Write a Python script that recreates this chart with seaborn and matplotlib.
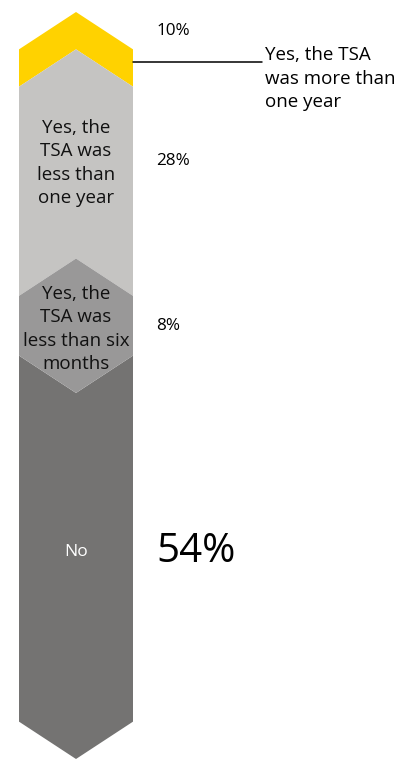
import matplotlib
matplotlib.use("Agg")
import matplotlib.pyplot as plt
import seaborn as sns

# Survey answers, top of the column to the bottom
categories = [
    "Yes, the TSA was more than one year",
    "Yes, the TSA was less than one year",
    "Yes, the TSA was less than six months",
    "No",
]
inside_labels = ["", "Yes, the\nTSA was\nless than\none year",
                 "Yes, the\nTSA was\nless than six\nmonths", "No"]
values = [10, 28, 8, 54]
value_labels = ["10%", "28%", "8%", "54%"]
colors = ["#FFD200", "#C5C4C2", "#999898", "#747372"]

sns.set_theme(style="white")
plt.rcParams["font.family"] = ["Open Sans", "DejaVu Sans"]

W, H = 413, 760
fig = plt.figure(figsize=(W / 100, H / 100), dpi=100)
ax = fig.add_axes([0, 0, 1, 1])

# axis scale: bar of width 0.8 centred on x=0, y runs 0..100 downward
px_per_x = 142.5
px_per_y = 7.47
x0_px, y0_px = 76, 12
ax.set_xlim(-x0_px / px_per_x, (W - x0_px) / px_per_x)
ax.set_ylim(100 + (H - y0_px - 100 * px_per_y) / px_per_y, -y0_px / px_per_y)
ax.axis("off")

half = 0.4
d = 5.0  # depth of the chevron points

bounds = [0]
for v in values:
    bounds.append(bounds[-1] + v)
b0, b1, b2, b3, b4 = bounds

L, R, C = -half, half, 0.0
# top segment: upward arrow band
ax.fill([L, C, R, R, C, L], [b0 + d, b0, b0 + d, b1, b1 - d, b1],
        color=colors[0], lw=0)
# second segment: notched top, tucked under the hexagon below
ax.fill([L, C, R, R, C, L], [b1, b1 - d, b1, b2, b2 - d, b2],
        color=colors[1], lw=0)
# bottom segment: pointed end
ax.fill([L, C, R, R, C, L], [b3, b3 + d, b3, b4 - d, b4, b4 - d],
        color=colors[3], lw=0)
# third segment: hexagon drawn over its neighbours
ax.fill([L, C, R, R, C, L], [b2, b2 - d, b2, b3, b3 + d, b3],
        color=colors[2], lw=0)

def xpx(p):
    return (p - x0_px) / px_per_x

def ypx(p):
    return (p - y0_px) / px_per_y

# inner category labels
inner_y = [None, ypx(163), ypx(329), ypx(552)]
inner_col = ["black", "#111111", "#111111", "white"]
for lab, yy, c in zip(inside_labels, inner_y, inner_col):
    if lab:
        ax.text(0, yy, lab, ha="center", va="center",
                fontsize=13.5 if lab != "No" else 12.5,
                color=c, linespacing=1.4)

# percentage labels
pct_y = [ypx(31), ypx(161), ypx(326), ypx(552)]
pct_size = [12.3, 12.3, 12.3, 29]
for lab, yy, s in zip(value_labels, pct_y, pct_size):
    ax.text(xpx(156), yy, lab, ha="left", va="center", fontsize=s, color="black")

# leader line and callout for the top segment
ax.plot([half, xpx(262)], [ypx(62), ypx(62)], color="black", lw=1.1)
ax.text(xpx(265), ypx(46), "Yes, the TSA\nwas more than\none year",
        ha="left", va="top", fontsize=13.5, color="black", linespacing=1.4)

fig.savefig("out.png", dpi=100)
